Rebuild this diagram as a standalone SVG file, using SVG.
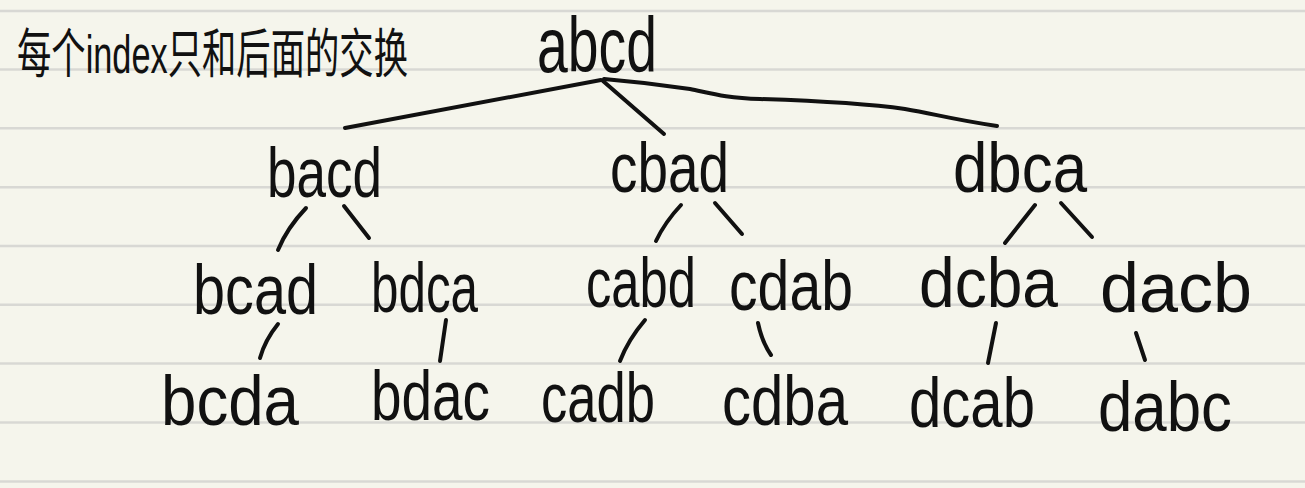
<svg xmlns="http://www.w3.org/2000/svg" width="1305" height="488" viewBox="0 0 1305 488">
<style>
.bg{fill:#f5f5ec}
.rule{stroke:#d8d8d4;stroke-width:2.5}
.n{font-family:"Liberation Sans","Noto Sans",sans-serif;font-size:70px;fill:#111}
.root{font-size:78px}
.note{font-family:"Liberation Sans","Noto Sans CJK SC",sans-serif;font-size:44px;fill:#111}
.c path{fill:none;stroke:#111;stroke-width:4;stroke-linecap:round;stroke-linejoin:round}
</style>
<rect class="bg" x="0" y="0" width="1305" height="488"/>
<g id="rules">
<line class="rule" x1="0" y1="11" x2="1305" y2="11"/>
<line class="rule" x1="0" y1="69.5" x2="1305" y2="69.5"/>
<line class="rule" x1="0" y1="128.3" x2="1305" y2="128.3"/>
<line class="rule" x1="0" y1="187.2" x2="1305" y2="187.2"/>
<line class="rule" x1="0" y1="246" x2="1305" y2="246"/>
<line class="rule" x1="0" y1="304.8" x2="1305" y2="304.8"/>
<line class="rule" x1="0" y1="363.6" x2="1305" y2="363.6"/>
<line class="rule" x1="0" y1="422.5" x2="1305" y2="422.5"/>
<line class="rule" x1="0" y1="481.5" x2="1305" y2="481.5"/>
</g>
<g id="note" transform="translate(17,73) scale(1,1.22)"><text class="note" x="0" y="0" textLength="391" lengthAdjust="spacingAndGlyphs">每个index只和后面的交换</text></g>
<g class="c" id="connectors">
<path d="M601,80 L345,128"/>
<path d="M603,81 L664,134"/>
<path d="M604,79 C640,82 670,86 690,89 C710,93 725,98 760,99 C820,101 870,104 905,109 C935,114 950,119 997,126"/>
<path d="M306,208 Q287,228 278,250"/>
<path d="M344,206 L369,238"/>
<path d="M681,205 Q665,222 656,241"/>
<path d="M715,203 L742,234"/>
<path d="M1035,205 L1005,243"/>
<path d="M1061,203 L1092,237"/>
<path d="M278,324 Q265,340 260,358"/>
<path d="M446,320 L440,361"/>
<path d="M645,320 Q628,340 620,361"/>
<path d="M758,323 Q762,342 771,355"/>
<path d="M996,323 L988,363"/>
<path d="M1136,333 L1145,360"/>
</g>
<g id="n-abcd"><text class="n root" x="537" y="72" textLength="120" lengthAdjust="spacingAndGlyphs">abcd</text></g>
<g id="n-bacd"><text class="n" x="267" y="197" textLength="115" lengthAdjust="spacingAndGlyphs">bacd</text></g>
<g id="n-cbad"><text class="n" x="610" y="192" textLength="119" lengthAdjust="spacingAndGlyphs">cbad</text></g>
<g id="n-dbca"><text class="n" x="953" y="192" textLength="134" lengthAdjust="spacingAndGlyphs">dbca</text></g>
<g id="n-bcad"><text class="n" x="193" y="314" textLength="125" lengthAdjust="spacingAndGlyphs">bcad</text></g>
<g id="n-bdca"><text class="n" x="371" y="312" textLength="107" lengthAdjust="spacingAndGlyphs">bdca</text></g>
<g id="n-cabd"><text class="n" x="586" y="307" textLength="110" lengthAdjust="spacingAndGlyphs">cabd</text></g>
<g id="n-cdab"><text class="n" x="729" y="310" textLength="124" lengthAdjust="spacingAndGlyphs">cdab</text></g>
<g id="n-dcba"><text class="n" x="919" y="307" textLength="139" lengthAdjust="spacingAndGlyphs">dcba</text></g>
<g id="n-dacb"><text class="n" x="1100" y="312" textLength="152" lengthAdjust="spacingAndGlyphs">dacb</text></g>
<g id="n-bcda"><text class="n" x="161" y="425" textLength="138" lengthAdjust="spacingAndGlyphs">bcda</text></g>
<g id="n-bdac"><text class="n" x="371" y="420" textLength="119" lengthAdjust="spacingAndGlyphs">bdac</text></g>
<g id="n-cadb"><text class="n" x="541" y="422" textLength="114" lengthAdjust="spacingAndGlyphs">cadb</text></g>
<g id="n-cdba"><text class="n" x="722" y="425" textLength="126" lengthAdjust="spacingAndGlyphs">cdba</text></g>
<g id="n-dcab"><text class="n" x="909" y="427" textLength="126" lengthAdjust="spacingAndGlyphs">dcab</text></g>
<g id="n-dabc"><text class="n" x="1098" y="431" textLength="134" lengthAdjust="spacingAndGlyphs">dabc</text></g>
</svg>
